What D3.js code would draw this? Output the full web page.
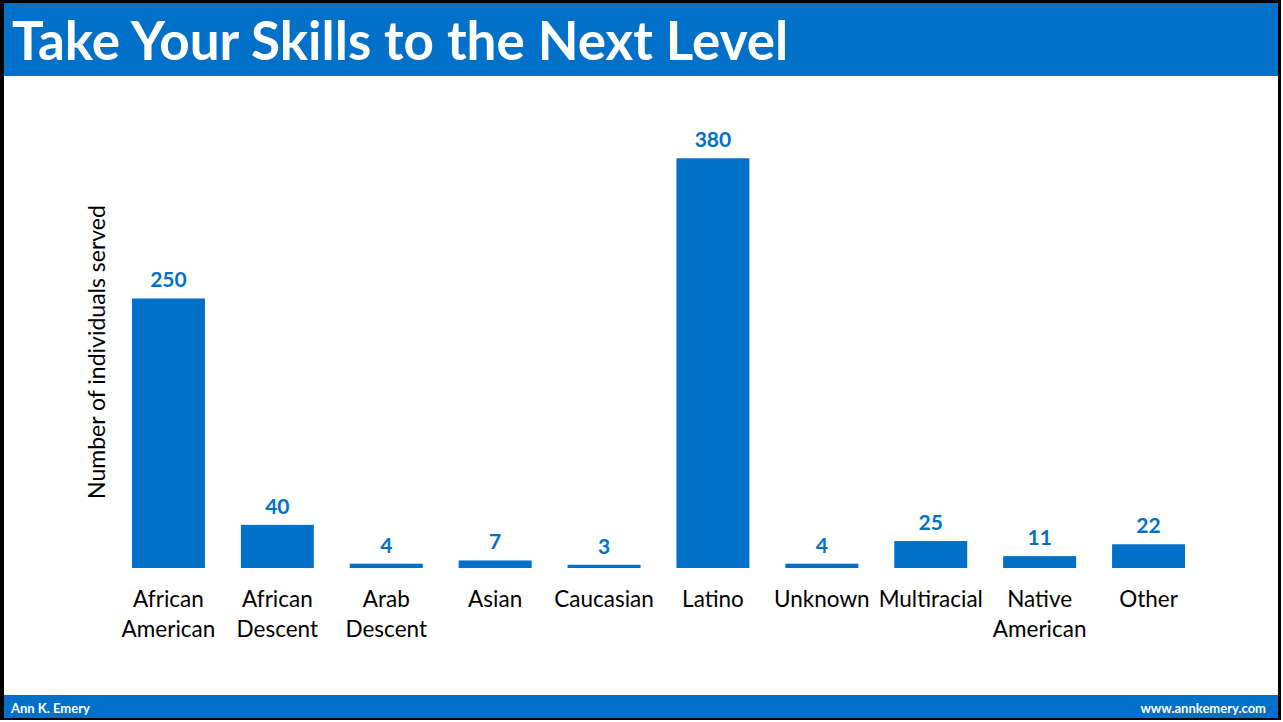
<!DOCTYPE html>
<html>
<head>
<meta charset="utf-8">
<script src="https://cdn.jsdelivr.net/npm/d3@7"></script>
<style>
  html, body { margin: 0; padding: 0; background: #fff; }
  svg { display: block; }
  text { font-family: Lato, "Open Sans", sans-serif; }
</style>
</head>
<body>
<svg id="chart" width="1283" height="722"></svg>
<script>
// Individuals served, by race/ethnicity
const categories = [
  ["African", "American"],
  ["African", "Descent"],
  ["Arab", "Descent"],
  ["Asian"],
  ["Caucasian"],
  ["Latino"],
  ["Unknown"],
  ["Multiracial"],
  ["Native", "American"],
  ["Other"]
];
const served = [250, 40, 4, 7, 3, 380, 4, 25, 11, 22];

const titleText = "Take Your Skills to the Next Level";
const yAxisTitle = "Number of individuals served";
const footerLeft = "Ann K. Emery";
const footerRight = "www.annkemery.com";

const BLUE = "#0070C9";

const svg = d3.select("#chart");

// Frame, title band and footer band
svg.append("rect").attr("x", 0).attr("y", 0).attr("width", 1281).attr("height", 720).attr("fill", "#000");
svg.append("rect").attr("x", 4).attr("y", 3).attr("width", 1274).attr("height", 715).attr("fill", "#fff");
svg.append("rect").attr("x", 4).attr("y", 3).attr("width", 1274).attr("height", 73).attr("fill", BLUE);
svg.append("rect").attr("x", 4).attr("y", 695).attr("width", 1274).attr("height", 23).attr("fill", BLUE);

svg.append("text")
  .attr("x", 12).attr("y", 60)
  .attr("fill", "#fff")
  .attr("font-weight", 700)
  .attr("font-size", 53)
  .text(titleText);

svg.append("text")
  .attr("x", 11).attr("y", 713)
  .attr("fill", "#fff").attr("font-weight", 700).attr("font-size", 13)
  .text(footerLeft);
svg.append("text")
  .attr("x", 1266).attr("y", 713)
  .attr("text-anchor", "end")
  .attr("fill", "#fff").attr("font-weight", 700).attr("font-size", 13)
  .text(footerRight);

// Plot area
const baseline = 568;
const x = d3.scaleBand()
  .domain(d3.range(categories.length))
  .range([114, 1203])
  .paddingInner(0.33)
  .paddingOuter(0.165);
const y = d3.scaleLinear()
  .domain([0, 380])
  .range([baseline, 158.3]);

const g = svg.append("g");

g.selectAll("rect.bar")
  .data(served)
  .join("rect")
  .attr("class", "bar")
  .attr("x", (d, i) => x(i))
  .attr("width", x.bandwidth())
  .attr("y", d => y(d))
  .attr("height", d => baseline - y(d))
  .attr("fill", BLUE);

g.selectAll("text.value")
  .data(served)
  .join("text")
  .attr("class", "value")
  .attr("x", (d, i) => x(i) + x.bandwidth() / 2)
  .attr("y", d => y(d) - 11)
  .attr("text-anchor", "middle")
  .attr("fill", BLUE)
  .attr("font-weight", 700)
  .attr("font-size", 21)
  .text(d => d);

// Category axis (labels only, no line or ticks)
const xAxis = d3.axisBottom(x).tickSize(0).tickFormat("");
const axisG = svg.append("g")
  .attr("transform", `translate(0,${baseline})`)
  .call(xAxis);
axisG.select(".domain").remove();

axisG.selectAll(".tick").each(function(i) {
  const t = d3.select(this).append("text")
    .attr("text-anchor", "middle")
    .attr("fill", "#000")
    .attr("font-size", 22.5);
  categories[i].forEach((line, k) => {
    t.append("tspan").attr("x", 0).attr("y", 39 + k * 30).text(line);
  });
});

svg.append("text")
  .attr("transform", `translate(105,352) rotate(-90)`)
  .attr("text-anchor", "middle")
  .attr("fill", "#000")
  .attr("font-size", 23)
  .text(yAxisTitle);
</script>
</body>
</html>
